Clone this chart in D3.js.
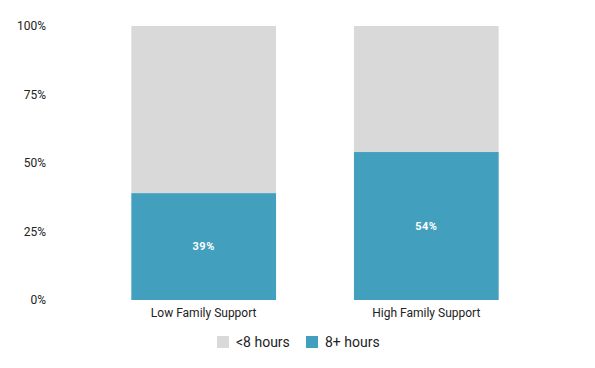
<!DOCTYPE html>
<html>
<head>
<meta charset="utf-8">
<script src="https://cdn.jsdelivr.net/npm/d3@7"></script>
<style>
  body { margin: 0; background: #fff; }
  text { font-family: Roboto, sans-serif; fill: #222; }
</style>
</head>
<body>
<script>
// chart data
var categories = ["Low Family Support", "High Family Support"];
var over8 = [0.39, 0.54];          // 8+ hours share
var seriesNames = ["<8 hours", "8+ hours"];
var yTicks = [0, 0.25, 0.5, 0.75, 1];

var width = 595,
    height = 368;

var svg = d3.select("body")
    .append("svg")
    .attr("width", width)
    .attr("height", height);

var x = d3.scaleBand()
    .domain(categories)
    .range([20, 610])
    .paddingInner(0.35)
    .paddingOuter(0.5);

var y = d3.scaleLinear()
    .domain([0, 1])
    .range([300, 26]);

var colors = { "<8 hours": "#d9d9d9", "8+ hours": "#439fbe" };

// y axis labels only
svg.append("g")
    .selectAll("text")
    .data(yTicks)
    .enter()
    .append("text")
    .attr("x", 46)
    .attr("y", function(d){ return y(d); })
    .attr("dy", "0.35em")
    .attr("text-anchor", "end")
    .style("font-size", "12px")
    .text(d3.format(".0%"));

// background (<8 hours) part
svg.selectAll(".under")
    .data(categories)
    .enter()
    .append("rect")
    .attr("class", "under")
    .attr("x", function(d){ return x(d); })
    .attr("width", x.bandwidth())
    .attr("y", y(1))
    .attr("height", function(d, i){ return y(over8[i]) - y(1); })
    .attr("fill", colors["<8 hours"]);

// 8+ hours part
svg.selectAll(".over")
    .data(categories)
    .enter()
    .append("rect")
    .attr("class", "over")
    .attr("x", function(d){ return x(d); })
    .attr("width", x.bandwidth())
    .attr("y", function(d, i){ return y(over8[i]); })
    .attr("height", function(d, i){ return y(0) - y(over8[i]); })
    .attr("fill", colors["8+ hours"]);

svg.selectAll(".val")
    .data(categories)
    .enter()
    .append("text")
    .attr("class", "val")
    .attr("x", function(d){ return x(d) + x.bandwidth() / 2; })
    .attr("y", function(d, i){ return (y(over8[i]) + y(0)) / 2; })
    .attr("dy", "0.35em")
    .attr("text-anchor", "middle")
    .style("font-size", "11px")
    .style("font-weight", "bold")
    .style("letter-spacing", "0.5px")
    .style("fill", "#fff")
    .text(function(d, i){ return d3.format(".0%")(over8[i]); });

// category labels
svg.selectAll(".cat")
    .data(categories)
    .enter()
    .append("text")
    .attr("class", "cat")
    .attr("x", function(d){ return x(d) + x.bandwidth() / 2; })
    .attr("y", 313)
    .attr("dy", "0.35em")
    .attr("text-anchor", "middle")
    .style("font-size", "12px")
    .text(function(d){ return d; });

// legend
var legendX = [217, 306];
var legend = svg.selectAll(".legend")
    .data(seriesNames)
    .enter()
    .append("g")
    .attr("class", "legend")
    .attr("transform", function(d, i){ return "translate(" + legendX[i] + ",336)"; });

legend.append("rect")
    .attr("width", 12)
    .attr("height", 12)
    .attr("fill", function(d){ return colors[d]; });

legend.append("text")
    .attr("x", 19)
    .attr("y", 6)
    .attr("dy", "0.35em")
    .style("font-size", "14px")
    .text(function(d){ return d; });
</script>
</body>
</html>
